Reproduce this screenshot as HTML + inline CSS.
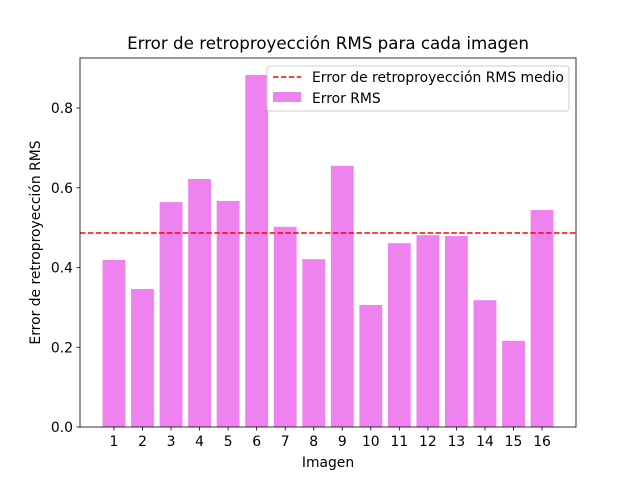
<!DOCTYPE html>
<html><head><meta charset="utf-8"><style>
body{margin:0;background:#fff;font-family:"Liberation Sans","DejaVu Sans",sans-serif;}
svg text{font-family:"DejaVu Sans","Liberation Sans",sans-serif;}
</style></head><body>
<svg id="chart" width="640" height="480" xmlns="http://www.w3.org/2000/svg">
<rect width="640" height="480" fill="#fff"/>
<text x="328" y="49" font-size="16.7" text-anchor="middle">Error de retroproyección RMS para cada imagen</text>
<g id="bars"></g>
<g id="axes"></g>
</svg>
<script>
const categories=[1,2,3,4,5,6,7,8,9,10,11,12,13,14,15,16];
const rmsValues=[0.419,0.346,0.564,0.622,0.567,0.883,0.502,0.421,0.655,0.306,0.461,0.481,0.479,0.318,0.216,0.544];
const yTicks=[0.0,0.2,0.4,0.6,0.8];
const ns="http://www.w3.org/2000/svg";
const L=80,R=576,T=58,B=427;
const xmin=-0.19,xmax=17.19,ymin=0,ymax=0.9254;
const xs=v=>L+(v-xmin)/(xmax-xmin)*(R-L);
const ys=v=>B-(v-ymin)/(ymax-ymin)*(B-T);
const FS=13.9;
function mk(tag,attrs,parent){const e=document.createElementNS(ns,tag);for(const k in attrs)e.setAttribute(k,attrs[k]);parent.appendChild(e);return e;}
const svg=document.getElementById('chart');
const bars=document.getElementById('bars'),axes=document.getElementById('axes');
categories.forEach((c,i)=>{
 const r=mk('rect',{x:xs(c-0.4),y:ys(rmsValues[i]),width:xs(c+0.4)-xs(c-0.4),height:ys(0)-ys(rmsValues[i]),fill:'#ee82ee'},bars);
 
 
 mk('line',{x1:xs(c),x2:xs(c),y1:B,y2:B+3.5,stroke:'#000','stroke-width':0.8},axes);
 const t=mk('text',{x:xs(c),y:B+19,'font-size':FS,'text-anchor':'middle'},axes);t.textContent=c;
 
 
});
yTicks.forEach(v=>{
 mk('line',{x1:L-3.5,x2:L,y1:ys(v),y2:ys(v),stroke:'#000','stroke-width':0.8},axes);
 const t=mk('text',{x:L-7,y:ys(v)+5,'font-size':FS,'text-anchor':'end'},axes);t.textContent=v.toFixed(1);
 
 
});
const mean=rmsValues.reduce((a,b)=>a+b,0)/rmsValues.length;
const ml=mk('line',{x1:L,x2:R,y1:ys(mean),y2:ys(mean),stroke:'#ff0000','stroke-width':1.5,'stroke-dasharray':'5.5,2.4'},axes);


const fr=mk('rect',{x:L,y:T,width:R-L,height:B-T,fill:'none',stroke:'#000','stroke-width':0.8},axes);


const xl=mk('text',{x:(L+R)/2,y:467,'font-size':FS,'text-anchor':'middle'},axes);xl.textContent='Imagen';


const yl=mk('text',{x:0,y:0,'font-size':FS,'text-anchor':'middle',transform:'translate(40,'+((T+B)/2)+') rotate(-90)'},axes);yl.textContent='Error de retroproyección RMS';


const lg=mk('g',{},svg);


mk('rect',{x:267,y:66,width:302,height:45,rx:3,fill:'#fff','fill-opacity':0.8,stroke:'#ccc'},lg);
mk('line',{x1:273,x2:301,y1:77,y2:77,stroke:'#ff0000','stroke-width':1.5,'stroke-dasharray':'5.5,2.4'},lg);
const t1=mk('text',{x:312,y:82,'font-size':FS},lg);t1.textContent='Error de retroproyección RMS medio';


mk('rect',{x:273,y:92,width:28,height:10,fill:'#ee82ee'},lg);
const t2=mk('text',{x:312,y:103,'font-size':FS},lg);t2.textContent='Error RMS';


</script>
</body></html>
